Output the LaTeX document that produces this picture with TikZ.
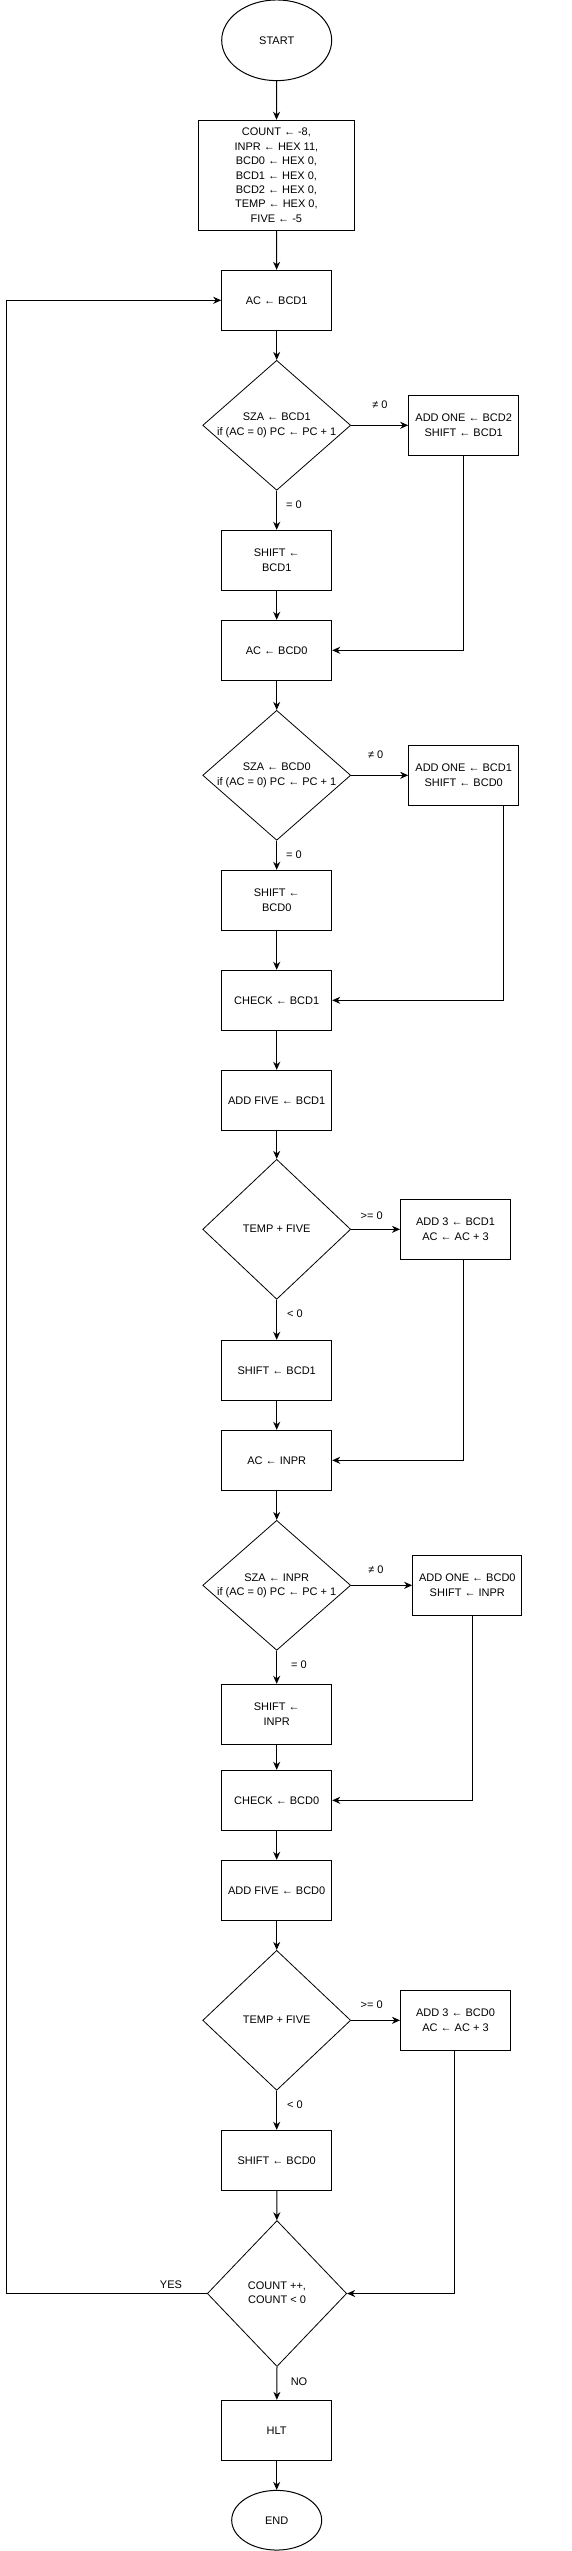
\documentclass[tikz,border=0pt]{standalone}
\usepackage{fontspec}
\setmainfont{Liberation Sans}
\usetikzlibrary{shapes.geometric,arrows.meta,calc}
\newcommand\dtext[1]{\makebox[0pt]{\begin{tabular}{@{}c@{}}#1\end{tabular}}}
\begin{document}
\begin{tikzpicture}[x=1pt,y=-1pt,
  every node/.style={font=\fontsize{11}{14.4}\selectfont},
  box/.style={draw,line width=1pt,rectangle,minimum width=110pt,minimum height=60pt,inner sep=0pt,align=center},
  term/.style={draw,line width=1pt,ellipse,inner sep=0pt},
  dia/.style={draw,line width=0.8pt,diamond,inner sep=0pt,minimum width=148pt,minimum height=130pt},
  lbl/.style={inner sep=0pt},
  arr/.style={draw,line width=1pt,-{Stealth[length=8pt,width=7pt,inset=2.5pt]}}
]
\useasboundingbox (0,0) rectangle (572,2551);

% nodes
\node[term,minimum width=110pt,minimum height=80.7pt] (start) at (276.7,40.3) {START};
\node[box,minimum width=155.3pt,minimum height=110pt] (init) at (276.4,175.3) {COUNT ← -8,\\INPR ← HEX 11,\\BCD0 ← HEX 0,\\BCD1 ← HEX 0,\\BCD2 ← HEX 0,\\TEMP ← HEX 0,\\FIVE ← -5};
\node[box] (ac1) at (276.7,300.3) {AC ← BCD1};
\node[dia] (d1) at (276.7,425.3) {\dtext{SZA ← BCD1\\if (AC = 0) PC ← PC + 1}};
\node[box] (add1) at (463.7,425.3) {ADD ONE ← BCD2\\SHIFT ← BCD1};
\node[box] (sh1) at (276.7,560.3) {SHIFT ←\\BCD1};
\node[box] (ac0) at (276.7,650.3) {AC ← BCD0};
\node[dia] (d2) at (276.7,775.3) {\dtext{SZA ← BCD0\\if (AC = 0) PC ← PC + 1}};
\node[box] (add2) at (463.7,775.3) {ADD ONE ← BCD1\\SHIFT ← BCD0};
\node[box] (sh0) at (276.7,900.3) {SHIFT ←\\BCD0};
\node[box] (chk1) at (276.7,1000.3) {CHECK ← BCD1};
\node[box] (af1) at (276.7,1100.3) {ADD FIVE ← BCD1};
\node[dia,minimum height=140pt] (d3) at (276.7,1229.3) {\dtext{TEMP + FIVE}};
\node[box] (a31) at (455.5,1229.3) {ADD 3 ← BCD1\\AC ← AC + 3};
\node[box] (sb1) at (276.7,1370.3) {SHIFT ← BCD1};
\node[box] (acin) at (276.7,1460.3) {AC ← INPR};
\node[dia] (d4) at (276.7,1585.3) {\dtext{SZA ← INPR\\if (AC = 0) PC ← PC + 1}};
\node[box,minimum width=109.3pt] (add0) at (467.3,1585.3) {ADD ONE ← BCD0\\SHIFT ← INPR};
\node[box] (shin) at (276.7,1714.3) {SHIFT ←\\INPR};
\node[box] (chk0) at (276.7,1800.3) {CHECK ← BCD0};
\node[box] (af0) at (276.7,1890.3) {ADD FIVE ← BCD0};
\node[dia,minimum height=140pt] (d5) at (276.7,2020.3) {\dtext{TEMP + FIVE}};
\node[box] (a30) at (455.5,2020.3) {ADD 3 ← BCD0\\AC ← AC + 3};
\node[box] (sb0) at (276.7,2160.3) {SHIFT ← BCD0};
\node[dia,minimum width=139.4pt,minimum height=146pt] (d6) at (277,2293.5) {\dtext{COUNT ++,\\COUNT < 0}};
\node[box] (hlt) at (276.7,2430.3) {HLT};
\node[term,minimum width=90pt,minimum height=59.7pt] (end) at (276.7,2520.2) {END};
\coordinate (loopc) at (6.7,2293.5);

% labels
\node[lbl] (ne1) at (380,405) {≠ 0};
\node[lbl] (eq1) at (294,505) {= 0};
\node[lbl] (ne2) at (375.7,755) {≠ 0};
\node[lbl] (eq2) at (294,855) {= 0};
\node[lbl] (ge1) at (371.7,1215.7) {>= 0};
\node[lbl] (lt1) at (295,1313.3) {< 0};
\node[lbl] (ne3) at (376,1570) {≠ 0};
\node[lbl] (eq3) at (299,1665) {= 0};
\node[lbl] (ge2) at (371.7,2005) {>= 0};
\node[lbl] (lt2) at (295,2105) {< 0};
\node[lbl] (yes) at (171,2284.3) {YES};
\node[lbl] (no) at (299,2381.7) {NO};

% connectors
\draw[arr] (start) -- (init);
\draw[arr] (init) -- (ac1);
\draw[arr] (ac1) -- (d1);
\draw[arr] (d1.east) -- (add1.west);
\draw[arr] (d1.south) -- (sh1);
\draw[arr] (sh1) -- (ac0);
\draw[arr] (add1.south) |- (ac0.east);
\draw[arr] (ac0) -- (d2);
\draw[arr] (d2.east) -- (add2.west);
\draw[arr] (d2.south) -- (sh0);
\draw[arr] (sh0) -- (chk1);
\draw[arr] ([xshift=40pt]add2.south) |- (chk1.east);
\draw[arr] (chk1) -- (af1);
\draw[arr] (af1) -- (d3);
\draw[arr] (d3.east) -- (a31.west);
\draw[arr] (d3.south) -- (sb1);
\draw[arr] (sb1) -- (acin);
\draw[arr] ([xshift=8.2pt]a31.south) |- (acin.east);
\draw[arr] (acin) -- (d4);
\draw[arr] (d4.east) -- (add0.west);
\draw[arr] (d4.south) -- (shin);
\draw[arr] (shin) -- (chk0);
\draw[arr] ([xshift=5.4pt]add0.south) |- (chk0.east);
\draw[arr] (chk0) -- (af0);
\draw[arr] (af0) -- (d5);
\draw[arr] (d5.east) -- (a30.west);
\draw[arr] (d5.south) -- (sb0);
\draw[arr] (sb0) -- (d6);
\draw[arr] ([xshift=-1.2pt]a30.south) |- (d6.east);
\draw[arr] (d6.west) -- (loopc) |- (ac1.west);
\draw[arr] (d6.south) -- (hlt);
\draw[arr] (hlt) -- (end);
\end{tikzpicture}
\end{document}
